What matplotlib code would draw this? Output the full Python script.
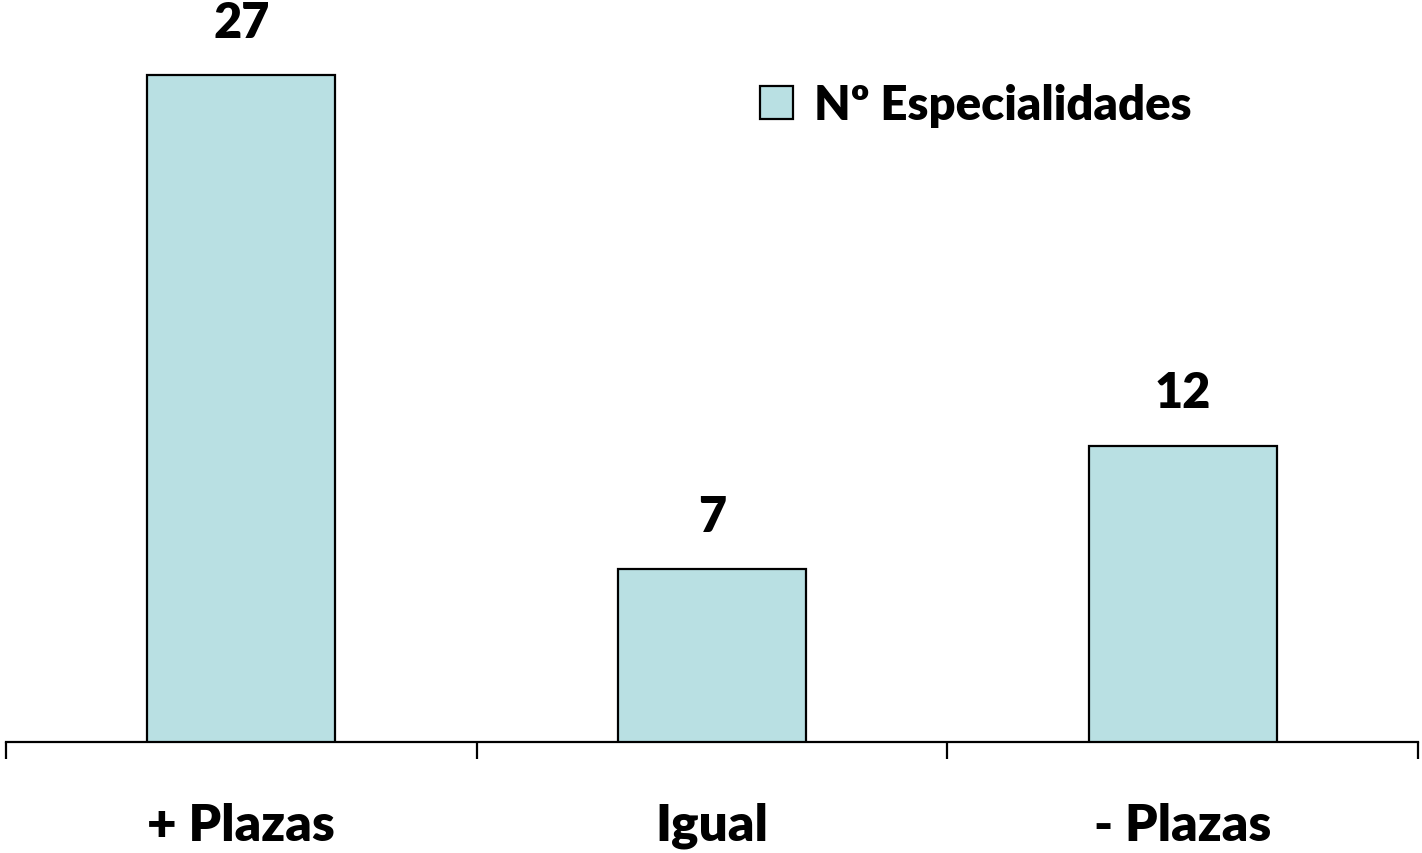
import matplotlib
matplotlib.use("Agg")
import matplotlib.pyplot as plt
from matplotlib.ticker import FixedLocator, NullFormatter

categories = ["+ Plazas", "Igual", "- Plazas"]
values = [27, 7, 12]
series_name = "Nº Especialidades"

bar_color = "#B9E0E3"
font = ["Lato", "DejaVu Sans"]
weight = "heavy"

fig = plt.figure(figsize=(14.22, 8.54), dpi=100)
ax = fig.add_axes([6 / 1422, (854 - 743) / 854, 1412 / 1422, 741 / 854])

x = list(range(len(categories)))
bars = ax.bar(x, values, width=0.40, color=bar_color, edgecolor="black",
              linewidth=1.6, label=series_name, zorder=3)

ax.set_xlim(-0.5, len(categories) - 0.5)
ax.set_ylim(0, 30)

for s in ["left", "right", "top"]:
    ax.spines[s].set_visible(False)
ax.spines["bottom"].set_linewidth(1.6)
ax.set_yticks([])

# category labels centred, ticks at category boundaries
ax.xaxis.set_major_locator(FixedLocator([i - 0.5 for i in range(len(categories) + 1)]))
ax.xaxis.set_major_formatter(NullFormatter())
ax.xaxis.set_minor_locator(FixedLocator(x))
ax.set_xticklabels(categories, minor=True)
ax.tick_params(axis="x", which="major", direction="out", length=12, width=1.6)
ax.tick_params(axis="x", which="minor", length=0, pad=43)
for lab in ax.get_xticklabels(minor=True):
    lab.set_fontfamily(font)
    lab.set_fontweight(weight)
    lab.set_fontsize(37)

ax.bar_label(bars, labels=[str(v) for v in values], padding=22,
             fontsize=35, fontweight=weight, family=font)

leg = ax.legend(loc="upper left", bbox_to_anchor=(735 / 1412, 1 - 63 / 741),
                frameon=False, prop={"family": font, "weight": weight, "size": 34},
                handlelength=0.7, handleheight=0.7, handletextpad=0.45,
                borderaxespad=0)

fig.savefig("out.png", dpi=100, facecolor="white")
